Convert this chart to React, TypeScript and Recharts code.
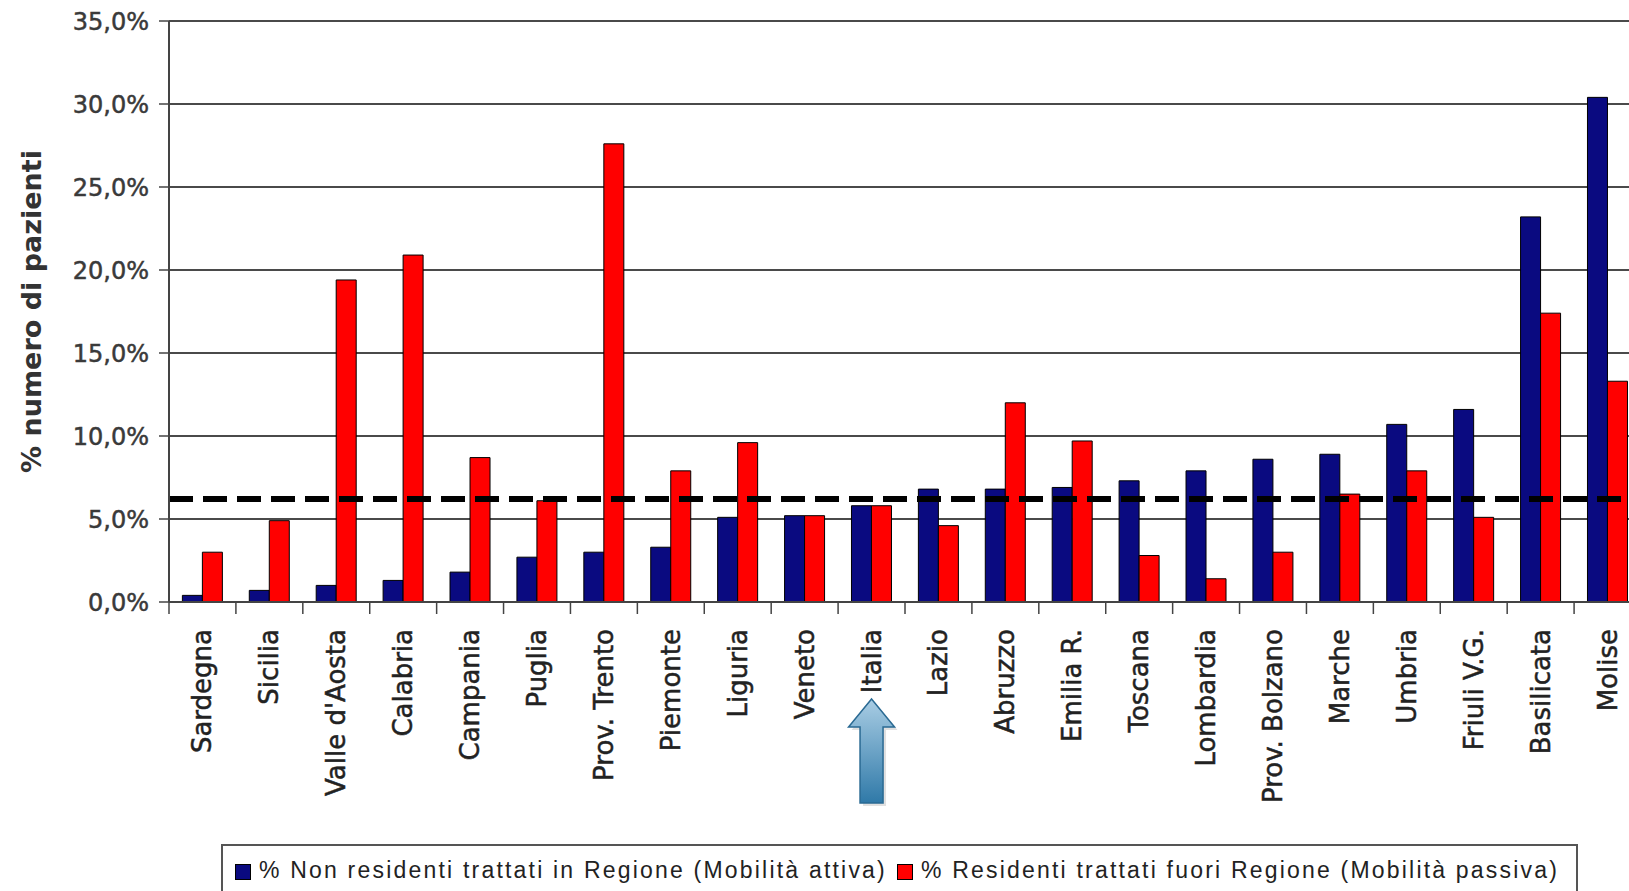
import React from "react";
import { BarChart, Bar, XAxis, YAxis, CartesianGrid, ReferenceLine, Label } from "recharts";

const categories = ["Sardegna", "Sicilia", "Valle d'Aosta", "Calabria", "Campania", "Puglia", "Prov. Trento", "Piemonte", "Liguria", "Veneto", "Italia", "Lazio", "Abruzzo", "Emilia R.", "Toscana", "Lombardia", "Prov. Bolzano", "Marche", "Umbria", "Friuli V.G.", "Basilicata", "Molise"];
const mobilitaAttiva = [0.4, 0.7, 1.0, 1.3, 1.8, 2.7, 3.0, 3.3, 5.1, 5.2, 5.8, 6.8, 6.8, 6.9, 7.3, 7.9, 8.6, 8.9, 10.7, 11.6, 23.2, 30.4];
const mobilitaPassiva = [3.0, 4.9, 19.4, 20.9, 8.7, 6.1, 27.6, 7.9, 9.6, 5.2, 5.8, 4.6, 12.0, 9.7, 2.8, 1.4, 3.0, 6.5, 7.9, 5.1, 17.4, 13.3];
const mediaItalia = 6.2;
const yTicks = [0, 5, 10, 15, 20, 25, 30, 35];
const yTickLabels = ["0,0%", "5,0%", "10,0%", "15,0%", "20,0%", "25,0%", "30,0%", "35,0%"];
const seriesNames = ["% Non residenti trattati in Regione (Mobilità attiva)", "% Residenti trattati fuori Regione (Mobilità passiva)"];
const highlighted = "Italia";

const data = categories.map((c, i) => ({ name: c, attiva: mobilitaAttiva[i], passiva: mobilitaPassiva[i] }));

const CHART_W = 1641;
const CHART_H = 891;
const Y_W = 169;
const X_H = 289;
const BLUE = "#0a0a80";
const RED = "#ff0000";

const XTick = (props: any) => {
  const { x, y, payload } = props;
  const bw = (CHART_W - Y_W) / categories.length;
  const isLast = payload.value === categories[categories.length - 1];
  const ty = y + 27;
  return (
    <g>
      <line x1={x - bw / 2} y1={y} x2={x - bw / 2} y2={y + 12} stroke="#444" strokeWidth={1.5} />
      {isLast && <line x1={x + bw / 2} y1={y} x2={x + bw / 2} y2={y + 12} stroke="#444" strokeWidth={1.5} />}
      <text
        x={x}
        y={ty}
        transform={`rotate(-90 ${x} ${ty})`}
        textAnchor="end"
        dominantBaseline="central"
        fontFamily="DejaVu Sans"
        fontSize={26}
        fill="#222"
        stroke="#222"
        strokeWidth={0.5}
      >
        {payload.value}
      </text>
      {payload.value === highlighted && (
        <g>
          <defs>
            <linearGradient id="arrowGrad" x1="0" y1="0" x2="0" y2="1">
              <stop offset="0%" stopColor="#a9cde4" />
              <stop offset="100%" stopColor="#2f79a8" />
            </linearGradient>
          </defs>
          <polygon
            points={`${x + 3},${y + 100} ${x + 26},${y + 128} ${x + 14.5},${y + 128} ${x + 14.5},${y + 204} ${x - 8.5},${y + 204} ${x - 8.5},${y + 128} ${x - 20},${y + 128}`}
            fill="#000"
            opacity={0.12}
          />
          <polygon
            points={`${x},${y + 97} ${x + 23},${y + 125} ${x + 11.5},${y + 125} ${x + 11.5},${y + 201} ${x - 11.5},${y + 201} ${x - 11.5},${y + 125} ${x - 23},${y + 125}`}
            fill="url(#arrowGrad)"
            stroke="#2a6a93"
            strokeWidth={1.5}
          />
        </g>
      )}
    </g>
  );
};

const YLabel = (props: any) => {
  const { viewBox } = props;
  const cx = viewBox.x + 31;
  const cy = viewBox.y + viewBox.height / 2;
  return (
    <text
      x={cx}
      y={cy}
      transform={`rotate(-90 ${cx} ${cy})`}
      textAnchor="middle"
      dominantBaseline="central"
      fontFamily="DejaVu Sans"
      fontWeight="bold"
      fontSize={27}
      fill="#333"
    >
      % numero di pazienti
    </text>
  );
};

export default function App() {
  return (
    <div style={{ position: "absolute", left: 0, top: 0, width: 1629, height: 891, overflow: "hidden", background: "#fff" }}>
      <BarChart
        width={CHART_W}
        height={CHART_H}
        data={data}
        margin={{ top: 21, right: 0, bottom: 0, left: 0 }}
        barCategoryGap="20%"
        barGap={0}
      >
        <CartesianGrid vertical={false} stroke="#4a4a4a" strokeWidth={2} />
        <XAxis
          dataKey="name"
          interval={0}
          height={X_H}
          tick={<XTick />}
          tickLine={false}
          tickSize={0}
          tickMargin={0}
          axisLine={{ stroke: "#444", strokeWidth: 2 }}
        />
        <YAxis
          width={Y_W}
          domain={[0, 35]}
          ticks={yTicks}
          interval={0}
          tickFormatter={(v: number) => yTickLabels[yTicks.indexOf(v)]}
          tick={{ fill: "#3a3a3a", stroke: "#3a3a3a", strokeWidth: 0.5, fontSize: 24, fontFamily: "DejaVu Sans" }}
          tickSize={10}
          tickMargin={10}
          tickLine={{ stroke: "#444", strokeWidth: 1.5 }}
          axisLine={{ stroke: "#444", strokeWidth: 2 }}
        >
          <Label content={<YLabel />} />
        </YAxis>
        <Bar dataKey="attiva" name={seriesNames[0]} fill={BLUE} stroke="#000" strokeWidth={1} isAnimationActive={false} />
        <Bar dataKey="passiva" name={seriesNames[1]} fill={RED} stroke="#000" strokeWidth={1} isAnimationActive={false} />
        <ReferenceLine y={mediaItalia} stroke="#000" strokeWidth={6} strokeDasharray="24 10" />
      </BarChart>
      <div
        style={{
          position: "absolute",
          left: 221,
          top: 844,
          width: 1357,
          height: 60,
          border: "2px solid #555",
          background: "#fff",
          boxSizing: "border-box",
          display: "flex",
          alignItems: "flex-start",
          paddingTop: 11,
          paddingLeft: 12,
          fontFamily: "Liberation Sans",
          fontSize: 23,
          letterSpacing: 2.2,
          color: "#222",
          whiteSpace: "nowrap",
        }}
      >
        <span style={{ display: "inline-block", width: 14, height: 14, background: BLUE, border: "1px solid #000", marginTop: 7, marginRight: 8 }} />
        <span>{seriesNames[0]}</span>
        <span style={{ display: "inline-block", width: 14, height: 14, background: RED, border: "1px solid #000", marginTop: 7, marginLeft: 10, marginRight: 8 }} />
        <span>{seriesNames[1]}</span>
      </div>
    </div>
  );
}
